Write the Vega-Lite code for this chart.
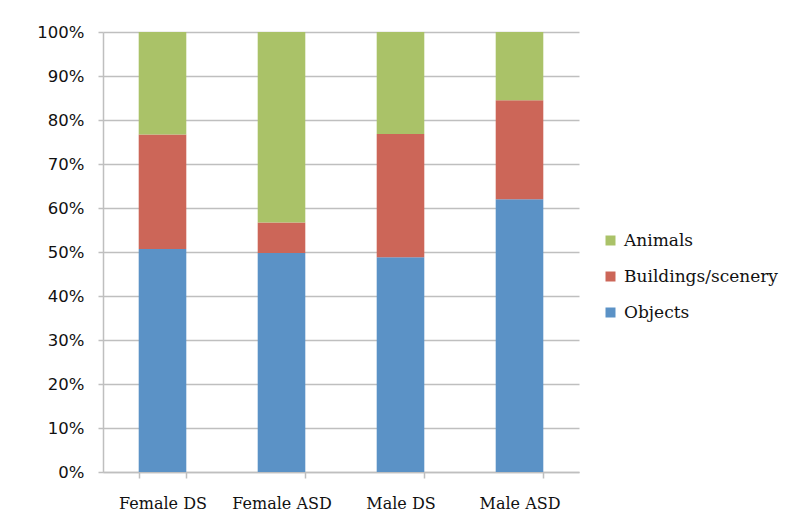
{
  "$schema": "https://vega.github.io/schema/vega-lite/v6.json",
  "autosize": "none",
  "width": 476,
  "height": 440,
  "padding": {"left": 103, "top": 32, "right": 215, "bottom": 59},
  "background": "white",
  "data": {
    "values": [
      {"group": "Female DS", "category": "Objects", "value": 50.7},
      {"group": "Female DS", "category": "Buildings/scenery", "value": 26.0},
      {"group": "Female DS", "category": "Animals", "value": 23.3},
      {"group": "Female ASD", "category": "Objects", "value": 49.8},
      {"group": "Female ASD", "category": "Buildings/scenery", "value": 6.9},
      {"group": "Female ASD", "category": "Animals", "value": 43.3},
      {"group": "Male DS", "category": "Objects", "value": 48.8},
      {"group": "Male DS", "category": "Buildings/scenery", "value": 28.0},
      {"group": "Male DS", "category": "Animals", "value": 23.2},
      {"group": "Male ASD", "category": "Objects", "value": 62.0},
      {"group": "Male ASD", "category": "Buildings/scenery", "value": 22.5},
      {"group": "Male ASD", "category": "Animals", "value": 15.5}
    ]
  },
  "mark": {"type": "bar"},
  "encoding": {
    "x": {
      "field": "group",
      "type": "nominal",
      "sort": ["Female DS", "Female ASD", "Male DS", "Male ASD"],
      "scale": {"paddingInner": 0.6, "paddingOuter": 0.3},
      "axis": {
        "title": null,
        "labelAngle": 0,
        "tickBand": "extent",
        "tickSize": 6,
        "tickColor": "#BFBFBF",
        "tickWidth": 1.5,
        "domainColor": "#BFBFBF",
        "domainWidth": 1.5,
        "labelFont": "DejaVu Serif",
        "labelFontSize": 16,
        "labelColor": "#111111",
        "labelPadding": 17,
        "grid": false
      }
    },
    "y": {
      "field": "value",
      "type": "quantitative",
      "stack": "normalize",
      "scale": {"domain": [0, 1]},
      "axis": {
        "title": null,
        "format": ".0%",
        "values": [0, 0.1, 0.2, 0.3, 0.4, 0.5, 0.6, 0.7, 0.8, 0.9, 1],
        "labelOverlap": false,
        "grid": true,
        "gridColor": "#BFBFBF",
        "gridWidth": 1.5,
        "tickColor": "#BFBFBF",
        "tickWidth": 1.5,
        "tickSize": 5,
        "domainColor": "#BFBFBF",
        "domainWidth": 1.5,
        "labelFont": "DejaVu Sans",
        "labelFontSize": 16.5,
        "labelColor": "#111111",
        "labelPadding": 14
      }
    },
    "color": {
      "field": "category",
      "type": "nominal",
      "scale": {
        "domain": ["Animals", "Buildings/scenery", "Objects"],
        "range": ["#AAC268", "#CC6658", "#5B92C6"]
      },
      "legend": {
        "title": null,
        "orient": "none",
        "legendX": 499,
        "legendY": 200,
        "symbolType": "square",
        "symbolSize": 100,
        "symbolStrokeWidth": 0,
        "labelFont": "DejaVu Serif",
        "labelFontSize": 17,
        "labelColor": "#111111",
        "labelOffset": 5,
        "rowPadding": 18
      }
    },
    "order": {"field": "category", "sort": "descending"}
  },
  "config": {
    "view": {"stroke": null}
  }
}
